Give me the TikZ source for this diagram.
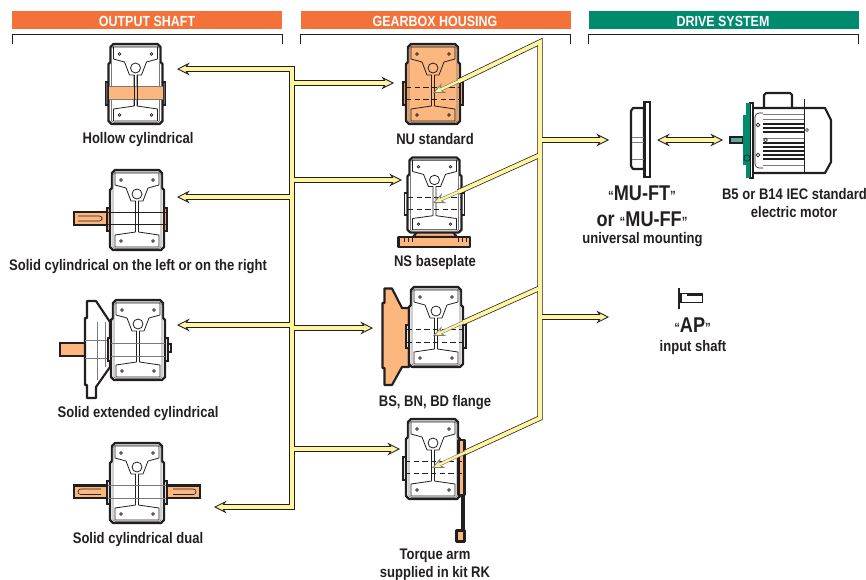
\documentclass[tikz,border=0pt]{standalone}
\usepackage{fontspec}
\setmainfont[FakeStretch=0.85]{Liberation Sans}
\usetikzlibrary{arrows.meta}

\definecolor{ink}{HTML}{231F20}
\definecolor{midgrey}{HTML}{7A7A7A}
\definecolor{barorange}{HTML}{F4713A}
\definecolor{bargreen}{HTML}{008A6E}
\definecolor{partorange}{HTML}{FBB77E}
\definecolor{motorteal}{HTML}{5FA89E}
\definecolor{pipeyellow}{HTML}{FFF59E}

\tikzset{
    pipehead/.tip={Stealth[length=9.5pt,width=9.5pt,inset=3.5pt,fill=pipeyellow,line width=.6pt]},
    innerhead/.tip={Stealth[length=9pt,width=8pt,inset=3pt,fill=pipeyellow,line width=.6pt]},
    pics/gearbox/.style 2 args={code={
        % side collars
        \draw[ink, line width=1.2pt, fill=#2] (-30,-2) rectangle (30,21);
        % housing
        \draw[ink, line width=1.7pt, line join=round, fill=#1] (-22,-40) -- (22,-40) -- (25,-37) -- (25,-22) -- (27,-20) -- (27,37) -- (24,40) -- (-24,40) -- (-27,37) -- (-27,-20) -- (-25,-22) -- (-25,-37) -- cycle;
        \draw[midgrey, line width=.5pt] (-22,-38) -- (22,-38) -- (24,-35) -- (24,37) -- (22,38.5) -- (-22,38.5) -- (-24,37) -- (-24,-35) -- cycle;
        % inner plates
        \draw[ink, line width=.6pt, line join=round] (-22,-37) -- (22,-37) -- (22,-25) -- (11,-22) -- (6,-9) -- (1.5,-9) -- (1.5,22) -- (22,25) -- (22,37) -- (-22,37) -- (-22,25) -- (-1.5,22) -- (-1.5,-9) -- (-6,-9) -- (-11,-22) -- (-22,-25) -- cycle;
        \draw[ink, line width=.6pt] (0,-16) circle (5);
        \draw[ink, line width=.5pt] (-16,-30) circle (1.3);
        \draw[ink, line width=.5pt] (16,-30) circle (1.3);
        \draw[ink, line width=.5pt] (-16,31) circle (1.3);
        \draw[ink, line width=.5pt] (16,31) circle (1.3);
    }},
}

\begin{document}
\begin{tikzpicture}[x=.75pt, y=-.75pt,
    header/.style={inner sep=0, anchor=base, text=white, font=\fontsize{11}{13}\selectfont\bfseries},
    caption/.style={inner sep=0, anchor=base, text=ink, font=\fontsize{11.5}{13}\selectfont\bfseries},
    bigcaption/.style={inner sep=0, anchor=base, text=ink, font=\fontsize{16}{18}\selectfont\bfseries},
    bracket/.style={draw=ink, line width=.7pt},
    shaft/.style={draw=ink, line width=1.6pt, fill=partorange},
    part/.style={draw=ink, line width=1.6pt, fill=partorange, line join=round},
    axisline/.style={draw=ink, line width=.7pt},
    hidden/.style={draw=ink, line width=.6pt, dash pattern=on 4pt off 2.5pt},
    pipe/.style={draw=ink, line width=4pt},
    pipetip/.style={pipe, -{pipehead}},
    pipetwo/.style={pipe, {pipehead}-{pipehead}},
    core/.style={draw=pipeyellow, line width=2.9pt},
    coretip/.style={core, shorten >=5pt},
    coretwo/.style={core, shorten >=5pt, shorten <=5pt},
    innerpipe/.style={draw=midgrey, line width=2.6pt, -{innerhead}},
    innercore/.style={draw=pipeyellow, line width=1.7pt, shorten >=5pt},
    fin/.style={draw=ink, line width=2.2pt},
    slot/.style={draw=ink, line width=.45pt, rounded corners=2pt},
]
    \useasboundingbox (0,0) rectangle (866,579);

    % Header bars
    \fill[barorange] (12,11) rectangle (282,29);
    \fill[barorange] (301,11) rectangle (571,29);
    \fill[bargreen] (589,11) rectangle (859,29);
    \node[header] (headShaft) at (147,26) {OUTPUT SHAFT};
    \node[header] (headHousing) at (435,26) {GEARBOX HOUSING};
    \node[header] (headDrive) at (723,26) {DRIVE SYSTEM};
    \draw[bracket] (12.5,44) -- (12.5,34) -- (282,34) -- (282,44);
    \draw[bracket] (300.5,44) -- (300.5,34) -- (570.5,34) -- (570.5,44);
    \draw[bracket] (588.5,44) -- (588.5,34) -- (858.5,34) -- (858.5,44);

    % Output shaft column
    \pic (hollow) at (135.5,84) {gearbox={white}{ink!70}};
    \fill[partorange] (109,86) rectangle (163,99);
    \draw[axisline, draw=midgrey] (109,86) -- (163,86);
    \draw[axisline, draw=midgrey] (109,99) -- (163,99);
    \draw[ink, line width=.6pt] (134,75) -- (134,106);
    \draw[ink, line width=.6pt] (137,75) -- (137,106);

    \draw[shaft] (74,212) rectangle (108,225);
    \draw[slot] (78,216) -- (102,216) -- (102,221) -- (78,221);
    \pic (solid) at (137,210) {gearbox={white}{partorange}};
    \draw[axisline] (108,212) -- (166,212);
    \draw[axisline] (108,224) -- (166,224);

    \draw[shaft] (60,343) rectangle (85,356);
    \draw[ink, line width=1.6pt, fill=white, line join=round] (87,301) -- (96,301) -- (110,322) -- (110,367) -- (96,387) -- (96,398) -- (87,398) -- (87,385) -- (85,385) -- (85,318) -- (87,318) -- cycle;
    \draw[midgrey, line width=.5pt] (85,340) -- (110,340);
    \draw[midgrey, line width=.5pt] (85,358) -- (110,358);
    \draw[midgrey, line width=.5pt] (97,322) -- (97,380);
    \draw[midgrey, line width=.5pt] (105,322) -- (105,367);
    \draw[ink, line width=.8pt, fill=white] (168,344) rectangle (171,352);
    \pic (extended) at (138,340) {gearbox={white}{white}};
    \draw[axisline, draw=midgrey] (111,343) -- (165,343);
    \draw[axisline, draw=midgrey] (111,356) -- (165,356);

    \draw[shaft] (74,485.5) rectangle (108,498);
    \draw[shaft] (166,485.5) rectangle (200,498);
    \draw[slot] (101,489) -- (78,489) -- (78,494.5) -- (101,494.5);
    \draw[slot] (173,489) -- (196,489) -- (196,494.5) -- (173,494.5);
    \pic (dual) at (137,483) {gearbox={white}{white}};
    \draw[axisline, draw=midgrey] (108,485) -- (166,485);
    \draw[axisline, draw=midgrey] (108,498) -- (166,498);

    % Gearbox housing column
    \pic (standard) at (433,84) {gearbox={partorange}{partorange}};
    \draw[hidden] (406,87) -- (460,87);
    \draw[hidden] (406,99) -- (460,99);

    \draw[part] (413,237) -- (417,232) -- (453,232) -- (457,237) -- cycle;
    \draw[part] (398.5,237) rectangle (470,247);
    \draw[ink, line width=.5pt] (404,237) -- (404,242);
    \draw[ink, line width=.5pt] (408,237) -- (408,242);
    \draw[ink, line width=.5pt] (412,237) -- (412,242);
    \draw[ink, line width=.5pt] (458,237) -- (458,242);
    \draw[ink, line width=.5pt] (462,237) -- (462,242);
    \draw[ink, line width=.5pt] (466,237) -- (466,242);
    \pic[yscale=.94] (baseplate) at (434.5,195) {gearbox={white}{white}};
    \draw[hidden] (408,197) -- (461,197);
    \draw[hidden] (408,209) -- (461,209);

    \draw[part] (384.5,288.5) -- (392,288.5) -- (402,308) -- (409,308) -- (409,367) -- (402,367) -- (392,385) -- (384.5,385) -- (384.5,368) -- (382.5,368) -- (382.5,303) -- (384.5,303) -- cycle;
    \pic (flange) at (436,327) {gearbox={white}{white}};
    \draw[hidden] (407,329) -- (463,329);
    \draw[hidden] (407,342) -- (463,342);

    \draw[ink, line width=1.2pt, fill=ink] (461.5,495) rectangle (464.5,531);
    \draw[part] (456.5,530.5) rectangle (464.5,541.5);
    \pic (torque) at (433,459) {gearbox={white}{white}};
    \draw[part] (458.5,440) rectangle (464.5,495);
    \draw[hidden] (405,461) -- (462,461);
    \draw[hidden] (405,473.5) -- (462,473.5);

    % Drive system
    \draw[ink, line width=1.6pt, fill=white, line join=round] (644,108) -- (633,108) -- (631,111) -- (631,166) -- (633,169) -- (644,169) -- cycle;
    \draw[ink, line width=1.6pt, fill=white] (644.5,102) rectangle (650,177);
    \draw[midgrey, line width=.5pt] (632,137) -- (644,137);
    \draw[midgrey, line width=.5pt] (632,142) -- (644,142);
    \draw[midgrey, line width=.5pt] (632,159) -- (644,159);

    \draw[ink, line width=1.6pt, fill=white, line join=round] (764,110) -- (764,95) -- (766,93) -- (790,93) -- (792,95) -- (792,110) -- cycle;
    \draw[ink, line width=1.6pt, fill=white, line join=round] (750,108) -- (825,108) -- (831,120) -- (831,162) -- (825,173) -- (750,173) -- cycle;
    \draw[ink, line width=.6pt] (804,99) -- (804,172);
    \draw[ink, line width=.5pt, rounded corners=3pt] (763,113) -- (755,113) -- (755,168) -- (763,168);
    \draw[midgrey, line width=.6pt] (763,114) -- (804,114);
    \draw[midgrey, line width=.6pt] (763,119) -- (804,119);
    \draw[fin] (763,124) -- (804,124);
    \draw[fin] (763,128) -- (804,128);
    \draw[fin] (763,132) -- (804,132);
    \draw[midgrey, line width=.6pt] (763,138) -- (804,138);
    \draw[fin] (763,143) -- (804,143);
    \draw[fin] (763,147) -- (804,147);
    \draw[fin] (763,151) -- (804,151);
    \draw[fin] (763,155) -- (804,155);
    \draw[fin] (763,159) -- (804,159);
    \draw[midgrey, line width=.6pt] (763,165) -- (804,165);
    \draw[ink, line width=.5pt, fill=white] (807,130) circle (1.5);
    \draw[ink, line width=.5pt, fill=white] (758,125) circle (1.8);
    \draw[ink, line width=.5pt, fill=white] (765.5,140) circle (1.8);
    \draw[ink, line width=.5pt, fill=white] (758,155) circle (1.8);
    \draw[ink, line width=1.2pt, fill=motorteal] (730,137) rectangle (743,143);
    \draw[ink, line width=1.6pt, fill=white] (750,103) -- (753,103) -- (753,178) -- (750,178) -- cycle;
    \fill[bargreen] (746,103) rectangle (750,178);
    \fill[bargreen] (743,115) rectangle (746,165);
    \draw[ink, line width=.5pt] (747,158) circle (3.2);

    \draw[ink, line width=1.3pt, fill=white] (681,293.5) -- (702.5,293.5) -- (702.5,302.5) -- (681,302.5) -- cycle;
    \draw[ink, line width=1.8pt] (679,288) -- (679,309);
    \fill[ink] (687,293) rectangle (702.5,295.5);

    % Left tree
    \coordinate (leftTop) at (292,69);
    \coordinate (leftBottom) at (292,507);
    \coordinate (tipHollow) at (177,69);
    \coordinate (tipSolid) at (177,197);
    \coordinate (tipExtended) at (177,325);
    \coordinate (tipDual) at (214,507);
    \coordinate (tipStandard) at (394,83);
    \coordinate (tipBaseplate) at (402,180);
    \coordinate (tipFlange) at (373,328);
    \coordinate (tipTorque) at (400,449);
    \coordinate (leftHollow) at (292,197);
    \coordinate (leftExtended) at (292,325);
    \coordinate (leftStandard) at (292,83);
    \coordinate (leftBaseplate) at (292,180);
    \coordinate (leftFlange) at (292,328);
    \coordinate (leftTorque) at (292,449);

    \draw[pipe, line cap=rect] (leftTop) -- (leftBottom);
    \draw[pipetip] (leftTop) -- (tipHollow);
    \draw[pipetip] (leftHollow) -- (tipSolid);
    \draw[pipetip] (leftExtended) -- (tipExtended);
    \draw[pipetip] (leftBottom) -- (tipDual);
    \draw[pipetip] (leftStandard) -- (tipStandard);
    \draw[pipetip] (leftBaseplate) -- (tipBaseplate);
    \draw[pipetip] (leftFlange) -- (tipFlange);
    \draw[pipetip] (leftTorque) -- (tipTorque);

    \draw[core, line cap=rect] (leftTop) -- (leftBottom);
    \draw[coretip] (leftTop) -- (tipHollow);
    \draw[coretip] (leftHollow) -- (tipSolid);
    \draw[coretip] (leftExtended) -- (tipExtended);
    \draw[coretip] (leftBottom) -- (tipDual);
    \draw[coretip] (leftStandard) -- (tipStandard);
    \draw[coretip] (leftBaseplate) -- (tipBaseplate);
    \draw[coretip] (leftFlange) -- (tipFlange);
    \draw[coretip] (leftTorque) -- (tipTorque);

    % Right tree
    \coordinate (rightTop) at (540,42);
    \coordinate (rightBottom) at (540,418);
    \coordinate (rightBaseplate) at (540,155);
    \coordinate (rightFlange) at (540,288);
    \coordinate (rightMount) at (540,140);
    \coordinate (rightShaft) at (540,317);
    \coordinate (edgeStandard) at (458,81.5);
    \coordinate (edgeBaseplate) at (458,192);
    \coordinate (edgeFlange) at (463,322.5);
    \coordinate (edgeTorque) at (465,452.5);
    \coordinate (innerStandard) at (433,93);
    \coordinate (innerBaseplate) at (433,203);
    \coordinate (innerFlange) at (433,336);
    \coordinate (innerTorque) at (432,468);
    \coordinate (tipMount) at (609,140);
    \coordinate (tipShaft) at (609,317);
    \coordinate (mountRight) at (657,140);
    \coordinate (motorLeft) at (723,140);

    \draw[innerpipe] (edgeStandard) -- (innerStandard);
    \draw[innerpipe] (edgeBaseplate) -- (innerBaseplate);
    \draw[innerpipe] (edgeFlange) -- (innerFlange);
    \draw[innerpipe] (edgeTorque) -- (innerTorque);
    \draw[innercore] (edgeStandard) -- (innerStandard);
    \draw[innercore] (edgeBaseplate) -- (innerBaseplate);
    \draw[innercore] (edgeFlange) -- (innerFlange);
    \draw[innercore] (edgeTorque) -- (innerTorque);

    \draw[pipe] (edgeStandard) -- (rightTop) -- (rightBottom) -- (edgeTorque);
    \draw[pipe] (edgeBaseplate) -- (rightBaseplate);
    \draw[pipe] (edgeFlange) -- (rightFlange);
    \draw[pipetip] (rightMount) -- (tipMount);
    \draw[pipetip] (rightShaft) -- (tipShaft);
    \draw[pipetwo] (mountRight) -- (motorLeft);

    \draw[core] (edgeStandard) -- (rightTop) -- (rightBottom) -- (edgeTorque);
    \draw[core] (edgeBaseplate) -- (rightBaseplate);
    \draw[core] (edgeFlange) -- (rightFlange);
    \draw[coretip] (rightMount) -- (tipMount);
    \draw[coretip] (rightShaft) -- (tipShaft);
    \draw[coretwo] (mountRight) -- (motorLeft);

    % Labels
    \node[caption] (capHollow) at (138,143) {Hollow cylindrical};
    \node[caption] (capSolid) at (138,270) {Solid cylindrical on the left or on the right};
    \node[caption] (capExtended) at (138,417) {Solid extended cylindrical};
    \node[caption] (capDual) at (138,543) {Solid cylindrical dual};
    \node[caption] (capStandard) at (435,144) {NU standard};
    \node[caption] (capBaseplate) at (435,266) {NS baseplate};
    \node[caption] (capFlange) at (435,406) {BS, BN, BD flange};
    \node[caption] (capTorque) at (435,559) {Torque arm};
    \node[caption] (capKit) at (435,577) {supplied in kit RK};
    \node[bigcaption] (capFT) at (642,200) {{\fontsize{10}{10}\selectfont “}MU-FT{\fontsize{10}{10}\selectfont ”}};
    \node[bigcaption] (capFF) at (642,226) {or {\fontsize{10}{10}\selectfont “}MU-FF{\fontsize{10}{10}\selectfont ”}};
    \node[caption] (capUniversal) at (642.5,243) {universal mounting};
    \node[caption] (capMotor) at (794.5,199) {B5 or B14 IEC standard};
    \node[caption] (capElectric) at (794,217) {electric motor};
    \node[bigcaption] (capAP) at (692.5,332) {{\fontsize{10}{10}\selectfont “}AP{\fontsize{10}{10}\selectfont ”}};
    \node[caption] (capInput) at (693,351) {input shaft};
\end{tikzpicture}
\end{document}
